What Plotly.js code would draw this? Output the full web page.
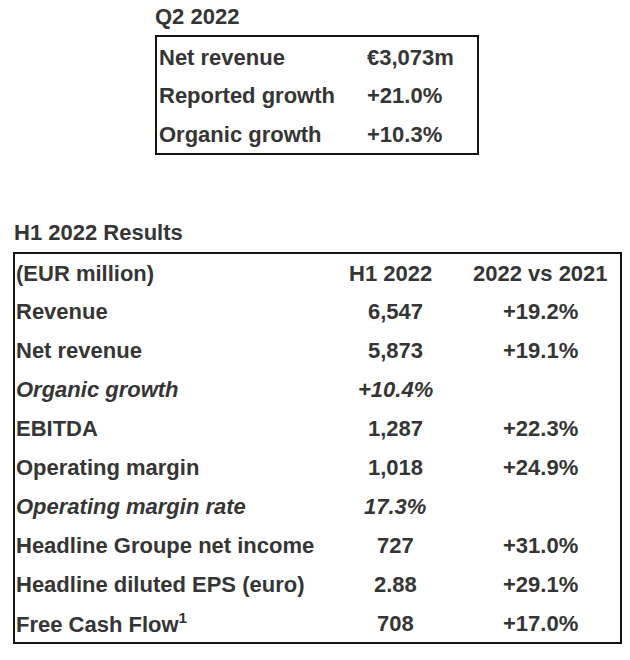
<!DOCTYPE html>
<html>
<head>
<meta charset="utf-8">
<script src="https://cdn.plot.ly/plotly-3.0.1.min.js"></script>
<style>
html,body{margin:0;padding:0;background:#fff;}
#chart{width:630px;height:660px;}
</style>
</head>
<body>
<div id="chart"></div>
<script>
// ---- data ----
const q2Title = "Q2 2022";
const q2Labels = ["Net revenue", "Reported growth", "Organic growth"];
const q2Values = ["€3,073m", "+21.0%", "+10.3%"];

const h1Title = "H1 2022 Results";
const h1Headers = ["(EUR million)", "H1 2022", "2022 vs 2021"];
const h1Labels = ["Revenue", "Net revenue", "Organic growth", "EBITDA", "Operating margin",
  "Operating margin rate", "Headline Groupe net income", "Headline diluted EPS (euro)",
  "Free Cash Flow<sup>1</sup>"];
const h1Values = ["6,547", "5,873", "+10.4%", "1,287", "1,018", "17.3%", "727", "2.88", "708"];
const h1Change = ["+19.2%", "+19.1%", "", "+22.3%", "+24.9%", "", "+31.0%", "+29.1%", "+17.0%"];
const h1ItalicRows = ["Organic growth", "Operating margin rate"];

// ---- styling / layout ----
const FONT = "Liberation Sans, Arial, sans-serif";
const TXT = "#353535";
const FS = 22;
const annotations = [];
function txt(x, y, text, align, italic) {
  annotations.push({
    x: x, y: y, xref: "x", yref: "y", text: text, showarrow: false,
    xanchor: align, yanchor: "middle",
    font: {family: FONT, size: FS, color: TXT, weight: 700, style: italic ? "italic" : "normal"}
  });
}

// Q2 block
const q2Box = {x0: 156, x1: 478, y0: 36, y1: 154};
const q2Row0 = 57, q2RowH = 38.5;
txt(153, 16, q2Title, "left", false);
q2Labels.forEach((l, i) => {
  const y = q2Row0 + i * q2RowH;
  txt(157, y, l, "left", false);
  txt(365, y, q2Values[i], "left", false);
});

// H1 block
const h1Box = {x0: 14, x1: 621, y0: 253, y1: 643};
const h1Row0 = 273, h1RowH = 38.9;
const colLabelX = 14, colValX = 395, colChgX = 540;
txt(12, 232, h1Title, "left", false);
txt(colLabelX, h1Row0, h1Headers[0], "left", false);
txt(colValX - 5, h1Row0, h1Headers[1], "center", false);
txt(colChgX, h1Row0, h1Headers[2], "center", false);
h1Labels.forEach((l, i) => {
  const y = h1Row0 + (i + 1) * h1RowH;
  const it = h1ItalicRows.includes(l);
  txt(colLabelX, y, l, "left", it);
  txt(colValX, y, h1Values[i], "center", it);
  if (h1Change[i]) txt(colChgX, y, h1Change[i], "center", it);
});

const shapes = [q2Box, h1Box].map(b => ({
  type: "rect", xref: "x", yref: "y", x0: b.x0, x1: b.x1, y0: b.y0, y1: b.y1,
  line: {color: "#151515", width: 2}, fillcolor: "rgba(0,0,0,0)"
}));

const layout = {
  width: 630, height: 660,
  margin: {l: 0, r: 0, t: 0, b: 0},
  paper_bgcolor: "#ffffff", plot_bgcolor: "#ffffff",
  xaxis: {range: [0, 630], visible: false, fixedrange: true},
  yaxis: {range: [660, 0], visible: false, fixedrange: true},
  showlegend: false,
  annotations: annotations,
  shapes: shapes
};

Plotly.newPlot("chart", [], layout, {staticPlot: true, displayModeBar: false});
</script>
</body>
</html>
